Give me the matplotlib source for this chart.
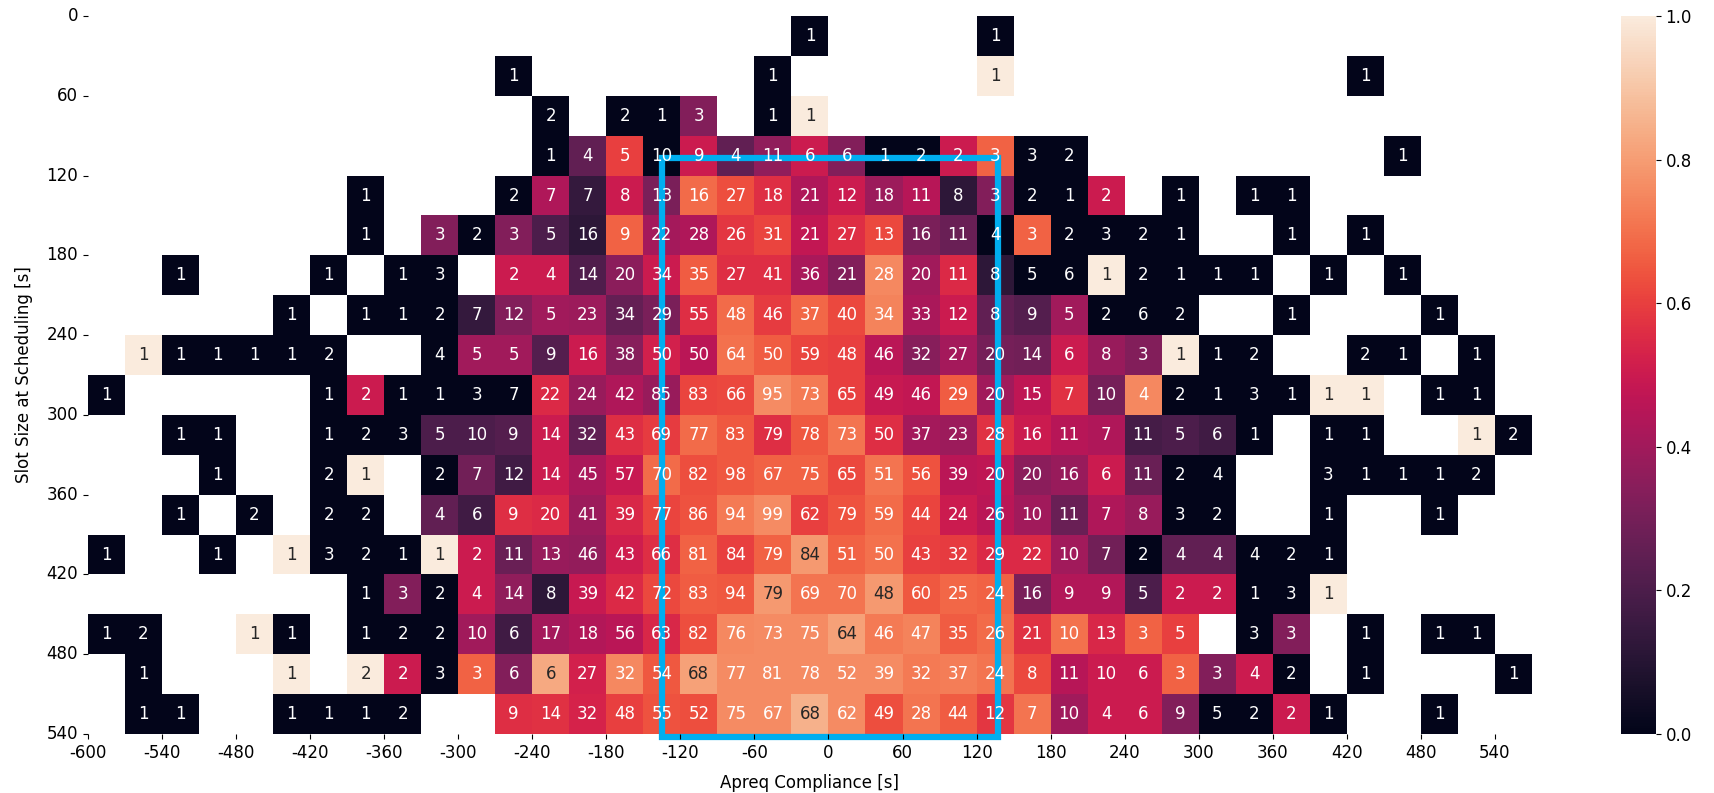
import numpy as np
import matplotlib
matplotlib.use("Agg")
import matplotlib.pyplot as plt
import matplotlib.patches as patches
import seaborn as sns

_ = None

# Bin edges shown as tick labels (every second edge)
compliance_labels = [-600, -540, -480, -420, -360, -300, -240, -180, -120, -60,
                     0, 60, 120, 180, 240, 300, 360, 420, 480, 540]
slot_labels = [0, 60, 120, 180, 240, 300, 360, 420, 480, 540]
bin_width = 30
x_start = -600

# Number of flights per cell (0 = no data), rows: slot size, cols: compliance
counts = [
    [0,0,0,0,0, 0,0,0,0,0, 0,0,0,0,0, 0,0,0,0,1, 0,0,0,0,1, 0,0,0,0,0, 0,0,0,0,0, 0,0,0,0],
    [0,0,0,0,0, 0,0,0,0,0, 0,1,0,0,0, 0,0,0,1,0, 0,0,0,0,1, 0,0,0,0,0, 0,0,0,0,1, 0,0,0,0],
    [0,0,0,0,0, 0,0,0,0,0, 0,0,2,0,2, 1,3,0,1,1, 0,0,0,0,0, 0,0,0,0,0, 0,0,0,0,0, 0,0,0,0],
    [0,0,0,0,0, 0,0,0,0,0, 0,0,1,4,5, 10,9,4,11,6, 6,1,2,2,3, 3,2,0,0,0, 0,0,0,0,0, 1,0,0,0],
    [0,0,0,0,0, 0,0,1,0,0, 0,2,7,7,8, 13,16,27,18,21, 12,18,11,8,3, 2,1,2,0,1, 0,1,1,0,0, 0,0,0,0],
    [0,0,0,0,0, 0,0,1,0,3, 2,3,5,16,9, 22,28,26,31,21, 27,13,16,11,4, 3,2,3,2,1, 0,0,1,0,1, 0,0,0,0],
    [0,0,1,0,0, 0,1,0,1,3, 0,2,4,14,20, 34,35,27,41,36, 21,28,20,11,8, 5,6,1,2,1, 1,1,0,1,0, 1,0,0,0],
    [0,0,0,0,0, 1,0,1,1,2, 7,12,5,23,34, 29,55,48,46,37, 40,34,33,12,8, 9,5,2,6,2, 0,0,1,0,0, 0,1,0,0],
    [0,1,1,1,1, 1,2,0,0,4, 5,5,9,16,38, 50,50,64,50,59, 48,46,32,27,20, 14,6,8,3,1, 1,2,0,0,2, 1,0,1,0],
    [1,0,0,0,0, 0,1,2,1,1, 3,7,22,24,42, 85,83,66,95,73, 65,49,46,29,20, 15,7,10,4,2, 1,3,1,1,1, 0,1,1,0],
    [0,0,1,1,0, 0,1,2,3,5, 10,9,14,32,43, 69,77,83,79,78, 73,50,37,23,28, 16,11,7,11,5, 6,1,0,1,1, 0,0,1,2],
    [0,0,0,1,0, 0,2,1,0,2, 7,12,14,45,57, 70,82,98,67,75, 65,51,56,39,20, 20,16,6,11,2, 4,0,0,3,1, 1,1,2,0],
    [0,0,1,0,2, 0,2,2,0,4, 6,9,20,41,39, 77,86,94,99,62, 79,59,44,24,26, 10,11,7,8,3, 2,0,0,1,0, 0,1,0,0],
    [1,0,0,1,0, 1,3,2,1,1, 2,11,13,46,43, 66,81,84,79,84, 51,50,43,32,29, 22,10,7,2,4, 4,4,2,1,0, 0,0,0,0],
    [0,0,0,0,0, 0,0,1,3,2, 4,14,8,39,42, 72,83,94,79,69, 70,48,60,25,24, 16,9,9,5,2, 2,1,3,1,0, 0,0,0,0],
    [1,2,0,0,1, 1,0,1,2,2, 10,6,17,18,56, 63,82,76,73,75, 64,46,47,35,26, 21,10,13,3,5, 0,3,3,0,1, 0,1,1,0],
    [0,1,0,0,0, 1,0,2,2,3, 3,6,6,27,32, 54,68,77,81,78, 52,39,32,37,24, 8,11,10,6,3, 3,4,2,0,1, 0,0,0,1],
    [0,1,1,0,0, 1,1,1,2,0, 0,9,14,32,48, 55,52,75,67,68, 62,49,28,44,12, 7,10,4,6,9, 5,2,2,1,0, 0,1,0,0],
]

# Share per cell (colour value), None = empty cell
share = [
    [_,_,_,_,_, _,_,_,_,_, _,_,_,_,_, _,_,_,_,0, _,_,_,_,0, _,_,_,_,_, _,_,_,_,_, _,_,_,_],
    [_,_,_,_,_, _,_,_,_,_, _,0,_,_,_, _,_,_,0,_, _,_,_,_,1, _,_,_,_,_, _,_,_,_,0, _,_,_,_],
    [_,_,_,_,_, _,_,_,_,_, _,_,0,_,0, 0,.33,_,0,1, _,_,_,_,_, _,_,_,_,_, _,_,_,_,_, _,_,_,_],
    [_,_,_,_,_, _,_,_,_,_, _,_,0,.25,.6, 0,.5,.25,.36,.5, .33,0,0,.5,.67, 0,0,_,_,_, _,_,_,_,_, 0,_,_,_],
    [_,_,_,_,_, _,_,0,_,_, _,0,.43,.14,.5, .31,.69,.63,.56,.43, .5,.39,.45,.12,.33, 0,0,.5,_,0, _,0,0,_,_, _,_,_,_],
    [_,_,_,_,_, _,_,0,_,.33, 0,.33,.2,.12,.67, .41,.43,.58,.61,.48, .56,.62,.31,.27,0, .67,0,0,0,0, _,_,0,_,0, _,_,_,_],
    [_,_,0,_,_, _,0,_,0,0, _,.5,.5,.21,.35, .5,.66,.56,.56,.42, .33,.75,.4,.55,.12, 0,0,1,0,0, 0,0,_,0,_, 0,_,_,_],
    [_,_,_,_,_, 0,_,0,0,0, .14,.33,.4,.39,.26, .31,.56,.69,.59,.68, .62,.74,.42,.5,.25, .22,.4,0,0,0, _,_,0,_,_, _,0,_,_],
    [_,1,0,0,0, 0,0,_,_,0, .4,.4,.22,.5,.34, .52,.46,.7,.66,.61, .6,.46,.34,.41,.3, .29,.5,.38,.33,1, 0,0,_,_,0, 0,_,0,_],
    [0,_,_,_,_, _,0,.5,0,0, 0,0,.55,.38,.43, .38,.61,.62,.76,.72, .6,.49,.48,.66,.4, .47,.57,.3,.75,0, 0,0,0,1,1, _,0,0,_],
    [_,_,0,0,_, _,0,0,0,.2, .2,.22,.5,.25,.56, .59,.69,.65,.56,.65, .71,.56,.41,.39,.57, .5,.45,.43,.18,.2, .17,0,_,0,0, _,_,1,0],
    [_,_,_,0,_, _,0,1,_,0, .29,.17,.5,.42,.49, .69,.63,.65,.67,.67, .62,.71,.64,.46,.47, .35,.38,.5,.27,0, 0,_,_,0,0, 0,0,0,_],
    [_,_,0,_,0, _,0,0,_,.25, .17,.56,.55,.39,.54, .61,.64,.72,.76,.6, .64,.69,.61,.5,.46, .4,.27,.43,.38,0, 0,_,_,0,_, _,0,_,_],
    [0,_,_,0,_, 1,0,0,0,1, .5,.27,.38,.37,.51, .56,.67,.6,.67,.79, .67,.7,.6,.59,.55, .55,.4,.29,0,.25, .25,0,0,0,_, _,_,_,_],
    [_,_,_,_,_, _,_,0,.33,0, .5,.36,.12,.49,.55, .62,.66,.65,.79,.71, .71,.79,.65,.68,.67, .31,.44,.44,.2,.5, .5,0,0,1,_, _,_,_,_],
    [0,0,_,_,1, 0,_,0,0,0, .4,.17,.41,.44,.46, .54,.63,.75,.76,.76, .81,.72,.74,.66,.69, .57,.7,.54,.67,.6, _,0,.33,_,0, _,0,0,_],
    [_,0,_,_,_, 1,_,1,.5,0, .67,.33,.83,.52,.75, .65,.81,.76,.76,.76, .76,.76,.72,.73,.71, .62,.45,.5,.5,.67, .33,.5,0,_,0, _,_,_,0],
    [_,0,0,_,_, 0,0,0,0,_, _,.56,.57,.53,.6, .64,.63,.76,.76,.85, .76,.63,.71,.66,.58, .71,.4,.5,.5,.33, 0,0,.5,0,_, _,0,_,_],
]

# Highlighted window [s]
box_compliance = (-135, 137)
box_slot = (107, 542)

count_arr = np.array(counts, dtype=int)
share_arr = np.array(share, dtype=float)
mask = count_arr == 0

fig = plt.figure(figsize=(17.14, 7.93), dpi=100)
ax = fig.add_axes([0.0513, 0.0744, 0.8425, 0.9054])
cax = fig.add_axes([0.9457, 0.0744, 0.0204, 0.9054])

sns.heatmap(share_arr, mask=mask, annot=count_arr, fmt="d",
            cmap=sns.color_palette("rocket", as_cmap=True), vmin=0, vmax=1,
            annot_kws={"fontsize": 12}, ax=ax, cbar_ax=cax)

# ticks on bin edges
ax.set_xticks(np.arange(0, 2 * len(compliance_labels), 2))
ax.set_xticklabels([str(v) for v in compliance_labels], rotation=0, fontsize=12)
ax.set_yticks(np.arange(0, 2 * len(slot_labels), 2))
ax.set_yticklabels([str(v) for v in slot_labels], rotation=0, fontsize=12)
ax.set_xlabel("Apreq Compliance [s]", fontsize=12, labelpad=9)
ax.set_ylabel("Slot Size at Scheduling [s]", fontsize=12, labelpad=10)
cax.tick_params(labelsize=12)

# blue box around the central window
x0 = (box_compliance[0] - x_start) / bin_width
x1 = (box_compliance[1] - x_start) / bin_width
y0 = box_slot[0] / bin_width
y1 = box_slot[1] / bin_width
rect = patches.Rectangle((x0, y0), x1 - x0, y1 - y0, fill=False,
                         edgecolor="#00AEEF", linewidth=4.5, clip_on=False)
ax.add_patch(rect)

fig.savefig("out.png", dpi=100)
